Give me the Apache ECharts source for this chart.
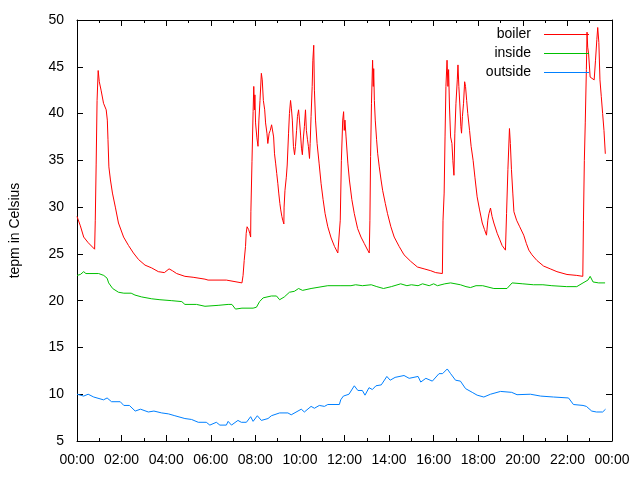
<!DOCTYPE html>
<html>
<head>
<meta charset="utf-8">
<script src="https://cdn.jsdelivr.net/npm/echarts@6/dist/echarts.min.js"></script>
<style>html,body{margin:0;padding:0;background:#fff}#c{width:640px;height:480px}</style>
</head>
<body>
<div id="c"></div>
<script>
const seriesNames = ['boiler', 'inside', 'outside'];
const xTickLabels = ['00:00','02:00','04:00','06:00','08:00','10:00','12:00','14:00','16:00','18:00','20:00','22:00','00:00'];
const yTitle = 'tepm in Celsius';

// [hour of day, temperature]
const boiler = [
[0.00,29.0],[0.15,28.0],[0.30,26.8],[0.50,26.2],[0.79,25.5],[0.82,28.6],[0.86,34.6],[0.90,41.4],[0.95,44.6],
[1.00,43.4],[1.08,42.5],[1.19,41.1],[1.31,40.4],[1.36,39.3],[1.39,37.2],[1.43,34.3],[1.50,32.9],[1.59,31.5],
[1.72,30.0],[1.86,28.3],[2.09,26.8],[2.31,25.9],[2.53,25.1],[2.76,24.4],[3.05,23.8],[3.35,23.5],[3.65,23.1],
[3.92,23.0],[4.13,23.4],[4.28,23.2],[4.47,22.9],[4.84,22.6],[5.21,22.5],[5.74,22.3],[5.88,22.2],[6.70,22.2],
[6.75,22.0],[7.40,21.9],[7.45,22.7],[7.50,24.3],[7.56,25.8],[7.59,27.2],[7.63,27.9],[7.70,27.6],[7.75,27.2],
[7.79,26.8],[7.80,29.5],[7.85,34.9],[7.90,40.2],[7.93,42.9],[7.96,40.4],[7.98,42.0],[8.01,39.0],[8.07,37.4],
[8.12,36.5],[8.16,39.3],[8.21,41.4],[8.27,44.3],[8.31,43.6],[8.36,41.4],[8.42,40.4],[8.46,39.0],[8.52,37.9],
[8.56,36.8],[8.62,37.9],[8.67,38.2],[8.73,38.8],[8.77,38.6],[8.82,37.5],[8.86,35.7],[8.91,34.7],[8.96,33.6],
[9.01,32.5],[9.05,31.5],[9.10,30.4],[9.14,29.7],[9.19,29.0],[9.23,28.6],[9.28,28.2],[9.29,30.0],[9.33,31.8],
[9.39,33.2],[9.43,34.5],[9.49,37.9],[9.53,40.0],[9.58,41.4],[9.62,40.5],[9.66,39.3],[9.71,36.5],[9.76,35.6],
[9.80,36.5],[9.85,38.2],[9.89,39.7],[9.94,40.4],[9.98,39.3],[10.03,37.7],[10.07,36.3],[10.11,35.6],[10.16,37.5],
[10.20,38.6],[10.25,40.4],[10.29,38.2],[10.34,37.2],[10.38,36.5],[10.43,35.2],[10.46,36.8],[10.50,39.7],
[10.55,42.9],[10.58,45.7],[10.62,47.3],[10.65,42.5],[10.70,39.3],[10.77,36.8],[10.86,34.7],[10.95,32.5],
[11.04,30.8],[11.13,29.3],[11.25,27.9],[11.40,26.7],[11.55,25.8],[11.70,25.1],[11.78,24.9],[11.81,28.6],
[11.86,35.0],[11.92,39.3],[11.96,40.2],[11.99,38.2],[12.02,39.3],[12.07,37.5],[12.15,34.7],[12.22,32.9],
[12.33,30.8],[12.44,29.3],[12.59,27.7],[12.74,26.8],[12.89,26.1],[13.04,25.4],[13.11,25.1],[13.14,28.6],
[13.17,35.4],[13.21,41.1],[13.26,45.7],[13.29,42.9],[13.31,44.8],[13.34,41.4],[13.38,39.3],[13.44,37.2],
[13.49,35.7],[13.56,34.3],[13.64,32.9],[13.71,31.8],[13.83,30.4],[13.93,29.3],[14.08,27.9],[14.23,26.8],
[14.45,25.8],[14.67,24.9],[14.97,24.2],[15.27,23.6],[15.57,23.4],[15.87,23.2],[16.09,23.0],[16.39,22.9],
[16.42,28.6],[16.47,31.5],[16.51,37.5],[16.55,42.9],[16.60,45.7],[16.64,42.9],[16.67,44.7],[16.71,40.7],
[16.76,37.5],[16.82,36.8],[16.86,35.0],[16.91,33.4],[16.95,37.9],[17.00,41.1],[17.06,43.6],[17.09,45.2],
[17.13,42.9],[17.18,40.7],[17.22,38.6],[17.25,37.9],[17.29,39.7],[17.34,41.1],[17.39,43.4],[17.43,42.9],
[17.48,41.4],[17.53,40.0],[17.61,38.2],[17.68,36.5],[17.77,35.0],[17.85,33.2],[17.95,31.1],[18.06,29.7],
[18.18,28.3],[18.28,27.6],[18.37,27.0],[18.43,28.6],[18.48,29.3],[18.55,29.9],[18.62,29.0],[18.70,28.3],
[18.85,27.2],[18.97,26.5],[19.07,25.9],[19.22,25.4],[19.27,29.3],[19.33,34.0],[19.40,38.4],[19.44,36.8],
[19.49,34.0],[19.55,31.5],[19.60,29.5],[19.72,28.6],[19.86,27.9],[20.04,27.0],[20.16,26.1],[20.27,25.4],
[20.41,24.9],[20.63,24.3],[20.93,23.7],[21.23,23.4],[21.53,23.1],[21.98,22.8],[22.42,22.7],[22.69,22.6],
[22.72,28.6],[22.76,35.0],[22.80,39.0],[22.85,44.7],[22.88,48.7],[22.91,47.1],[22.95,46.4],[23.02,43.9],
[23.09,43.7],[23.20,43.6],[23.26,45.7],[23.32,47.9],[23.36,49.2],[23.41,47.6],[23.46,43.6],[23.52,41.8],
[23.58,40.0],[23.64,38.2],[23.70,35.7]
];

const inside = [
[0.00,22.7],[0.15,22.8],[0.30,23.1],[0.40,22.9],[0.97,22.9],[1.20,22.7],[1.35,22.4],[1.42,21.9],[1.60,21.3],
[1.86,20.9],[2.10,20.8],[2.43,20.8],[2.60,20.6],[2.90,20.4],[3.35,20.2],[3.72,20.1],[4.25,20.0],[4.70,19.9],
[4.84,19.6],[5.36,19.6],[5.74,19.4],[6.33,19.5],[6.78,19.6],[6.95,19.6],[7.11,19.1],[7.40,19.2],[7.90,19.2],
[8.05,19.3],[8.19,19.9],[8.35,20.3],[8.72,20.5],[8.95,20.5],[9.09,20.1],[9.30,20.4],[9.53,20.9],[9.75,21.0],
[9.94,21.3],[10.12,21.1],[10.50,21.3],[11.25,21.6],[11.80,21.6],[12.29,21.6],[12.50,21.7],[12.80,21.6],
[13.20,21.7],[13.45,21.5],[13.75,21.3],[14.10,21.5],[14.52,21.8],[14.80,21.6],[15.00,21.7],[15.30,21.6],
[15.50,21.8],[15.80,21.6],[16.00,21.8],[16.17,21.6],[16.50,21.8],[16.76,21.9],[17.20,21.7],[17.45,21.5],
[17.65,21.4],[17.90,21.6],[18.20,21.6],[18.70,21.3],[19.29,21.3],[19.52,21.9],[20.00,21.8],[20.48,21.7],
[20.90,21.7],[21.30,21.6],[21.97,21.5],[22.42,21.5],[22.70,21.9],[22.92,22.2],[23.02,22.6],[23.15,22.0],
[23.40,21.9],[23.69,21.9]
];

const outside = [
[0.00,10.0],[0.30,9.8],[0.50,10.0],[0.75,9.7],[1.19,9.4],[1.35,9.6],[1.55,9.2],[1.94,9.2],[2.10,8.8],[2.35,8.8],
[2.61,8.2],[2.85,8.4],[3.20,8.1],[3.45,8.2],[3.80,8.0],[4.10,7.9],[4.39,7.7],[4.84,7.4],[4.92,7.2],[5.14,7.3],
[5.44,7.0],[5.80,7.0],[5.96,6.7],[6.25,7.0],[6.41,6.7],[6.70,6.7],[6.78,7.1],[6.93,6.7],[7.22,7.2],[7.37,7.0],
[7.60,7.0],[7.79,7.6],[7.90,7.1],[8.09,7.7],[8.27,7.2],[8.57,7.4],[8.72,7.7],[9.09,8.0],[9.46,8.0],[9.61,7.8],
[10.06,8.4],[10.20,8.1],[10.50,8.7],[10.65,8.5],[10.87,8.8],[11.10,8.7],[11.25,8.9],[11.77,8.9],[11.83,9.4],
[11.95,9.8],[12.20,10.0],[12.44,10.9],[12.60,10.4],[12.80,10.4],[12.92,9.9],[13.10,10.7],[13.25,10.5],
[13.41,10.9],[13.65,11.0],[13.90,11.9],[14.05,11.5],[14.27,11.8],[14.67,12.0],[14.90,11.7],[15.30,11.9],
[15.42,11.3],[15.65,11.7],[15.94,11.4],[16.24,12.2],[16.40,12.2],[16.61,12.7],[16.76,12.2],[16.98,11.5],
[17.20,11.4],[17.43,10.6],[17.73,10.2],[17.95,9.9],[18.25,9.7],[18.55,10.0],[19.00,10.3],[19.50,10.2],
[19.74,9.95],[20.34,10.0],[20.80,9.8],[21.38,9.7],[22.05,9.6],[22.27,8.9],[22.70,8.8],[22.85,8.7],[23.09,8.2],
[23.30,8.1],[23.58,8.1],[23.71,8.4]
];

const colors = ['#ff0000', '#00c000', '#0080ff'];
const FONT = 'Liberation Sans, Arial, sans-serif';

const chart = echarts.init(document.getElementById('c'), null, {renderer: 'canvas'});
const axisCommon = {
  axisLine: {show: true, onZero: false, lineStyle: {color: '#000', width: 1}},
  splitLine: {show: false}
};
chart.setOption({
  animation: false,
  backgroundColor: '#fff',
  color: colors,
  grid: {left: 75, right: 28, top: 20, bottom: 39, containLabel: false},
  legend: {
    data: seriesNames,
    orient: 'vertical',
    right: 46,
    top: 20,
    align: 'right',
    icon: 'rect',
    itemWidth: 45,
    itemHeight: 1,
    itemGap: 0,
    textStyle: {fontFamily: FONT, fontSize: 14, color: '#000', lineHeight: 19, padding: [0, 8, 0, 0]}
  },
  xAxis: [
    Object.assign({}, axisCommon, {
      type: 'value', min: 0, max: 24, interval: 2, position: 'bottom',
      axisTick: {show: true, inside: true, length: 6, lineStyle: {color: '#000'}},
      minorTick: {show: true, splitNumber: 2, length: 3, lineStyle: {color: '#000'}},
      axisLabel: {
        margin: 12, fontFamily: FONT, fontSize: 14, color: '#000',
        showMinLabel: true, showMaxLabel: true,
        formatter: v => xTickLabels[Math.round(v / 2)]
      }
    }),
    Object.assign({}, axisCommon, {
      type: 'value', min: 0, max: 24, interval: 2, position: 'top',
      axisTick: {show: true, inside: true, length: 6, lineStyle: {color: '#000'}},
      minorTick: {show: true, splitNumber: 2, length: 3, lineStyle: {color: '#000'}},
      axisLabel: {show: false}
    })
  ],
  yAxis: [
    Object.assign({}, axisCommon, {
      type: 'value', min: 5, max: 50, interval: 5, position: 'left',
      name: yTitle, nameLocation: 'middle', nameRotate: 90, nameGap: 55,
      nameTextStyle: {fontFamily: FONT, fontSize: 14, color: '#000'},
      axisTick: {show: true, inside: true, length: 6, lineStyle: {color: '#000'}},
      axisLabel: {margin: 13, fontFamily: FONT, fontSize: 14, color: '#000'}
    }),
    Object.assign({}, axisCommon, {
      type: 'value', min: 5, max: 50, interval: 5, position: 'right',
      axisTick: {show: true, inside: true, length: 6, lineStyle: {color: '#000'}},
      axisLabel: {show: false}
    })
  ],
  series: [
    {name: seriesNames[0], type: 'line', data: boiler, showSymbol: false, symbol: 'none', lineStyle: {width: 1}, z: 3},
    {name: seriesNames[1], type: 'line', data: inside, showSymbol: false, symbol: 'none', lineStyle: {width: 1}, z: 2},
    {name: seriesNames[2], type: 'line', data: outside, showSymbol: false, symbol: 'none', lineStyle: {width: 1}, z: 2}
  ]
});
</script>
</body>
</html>
